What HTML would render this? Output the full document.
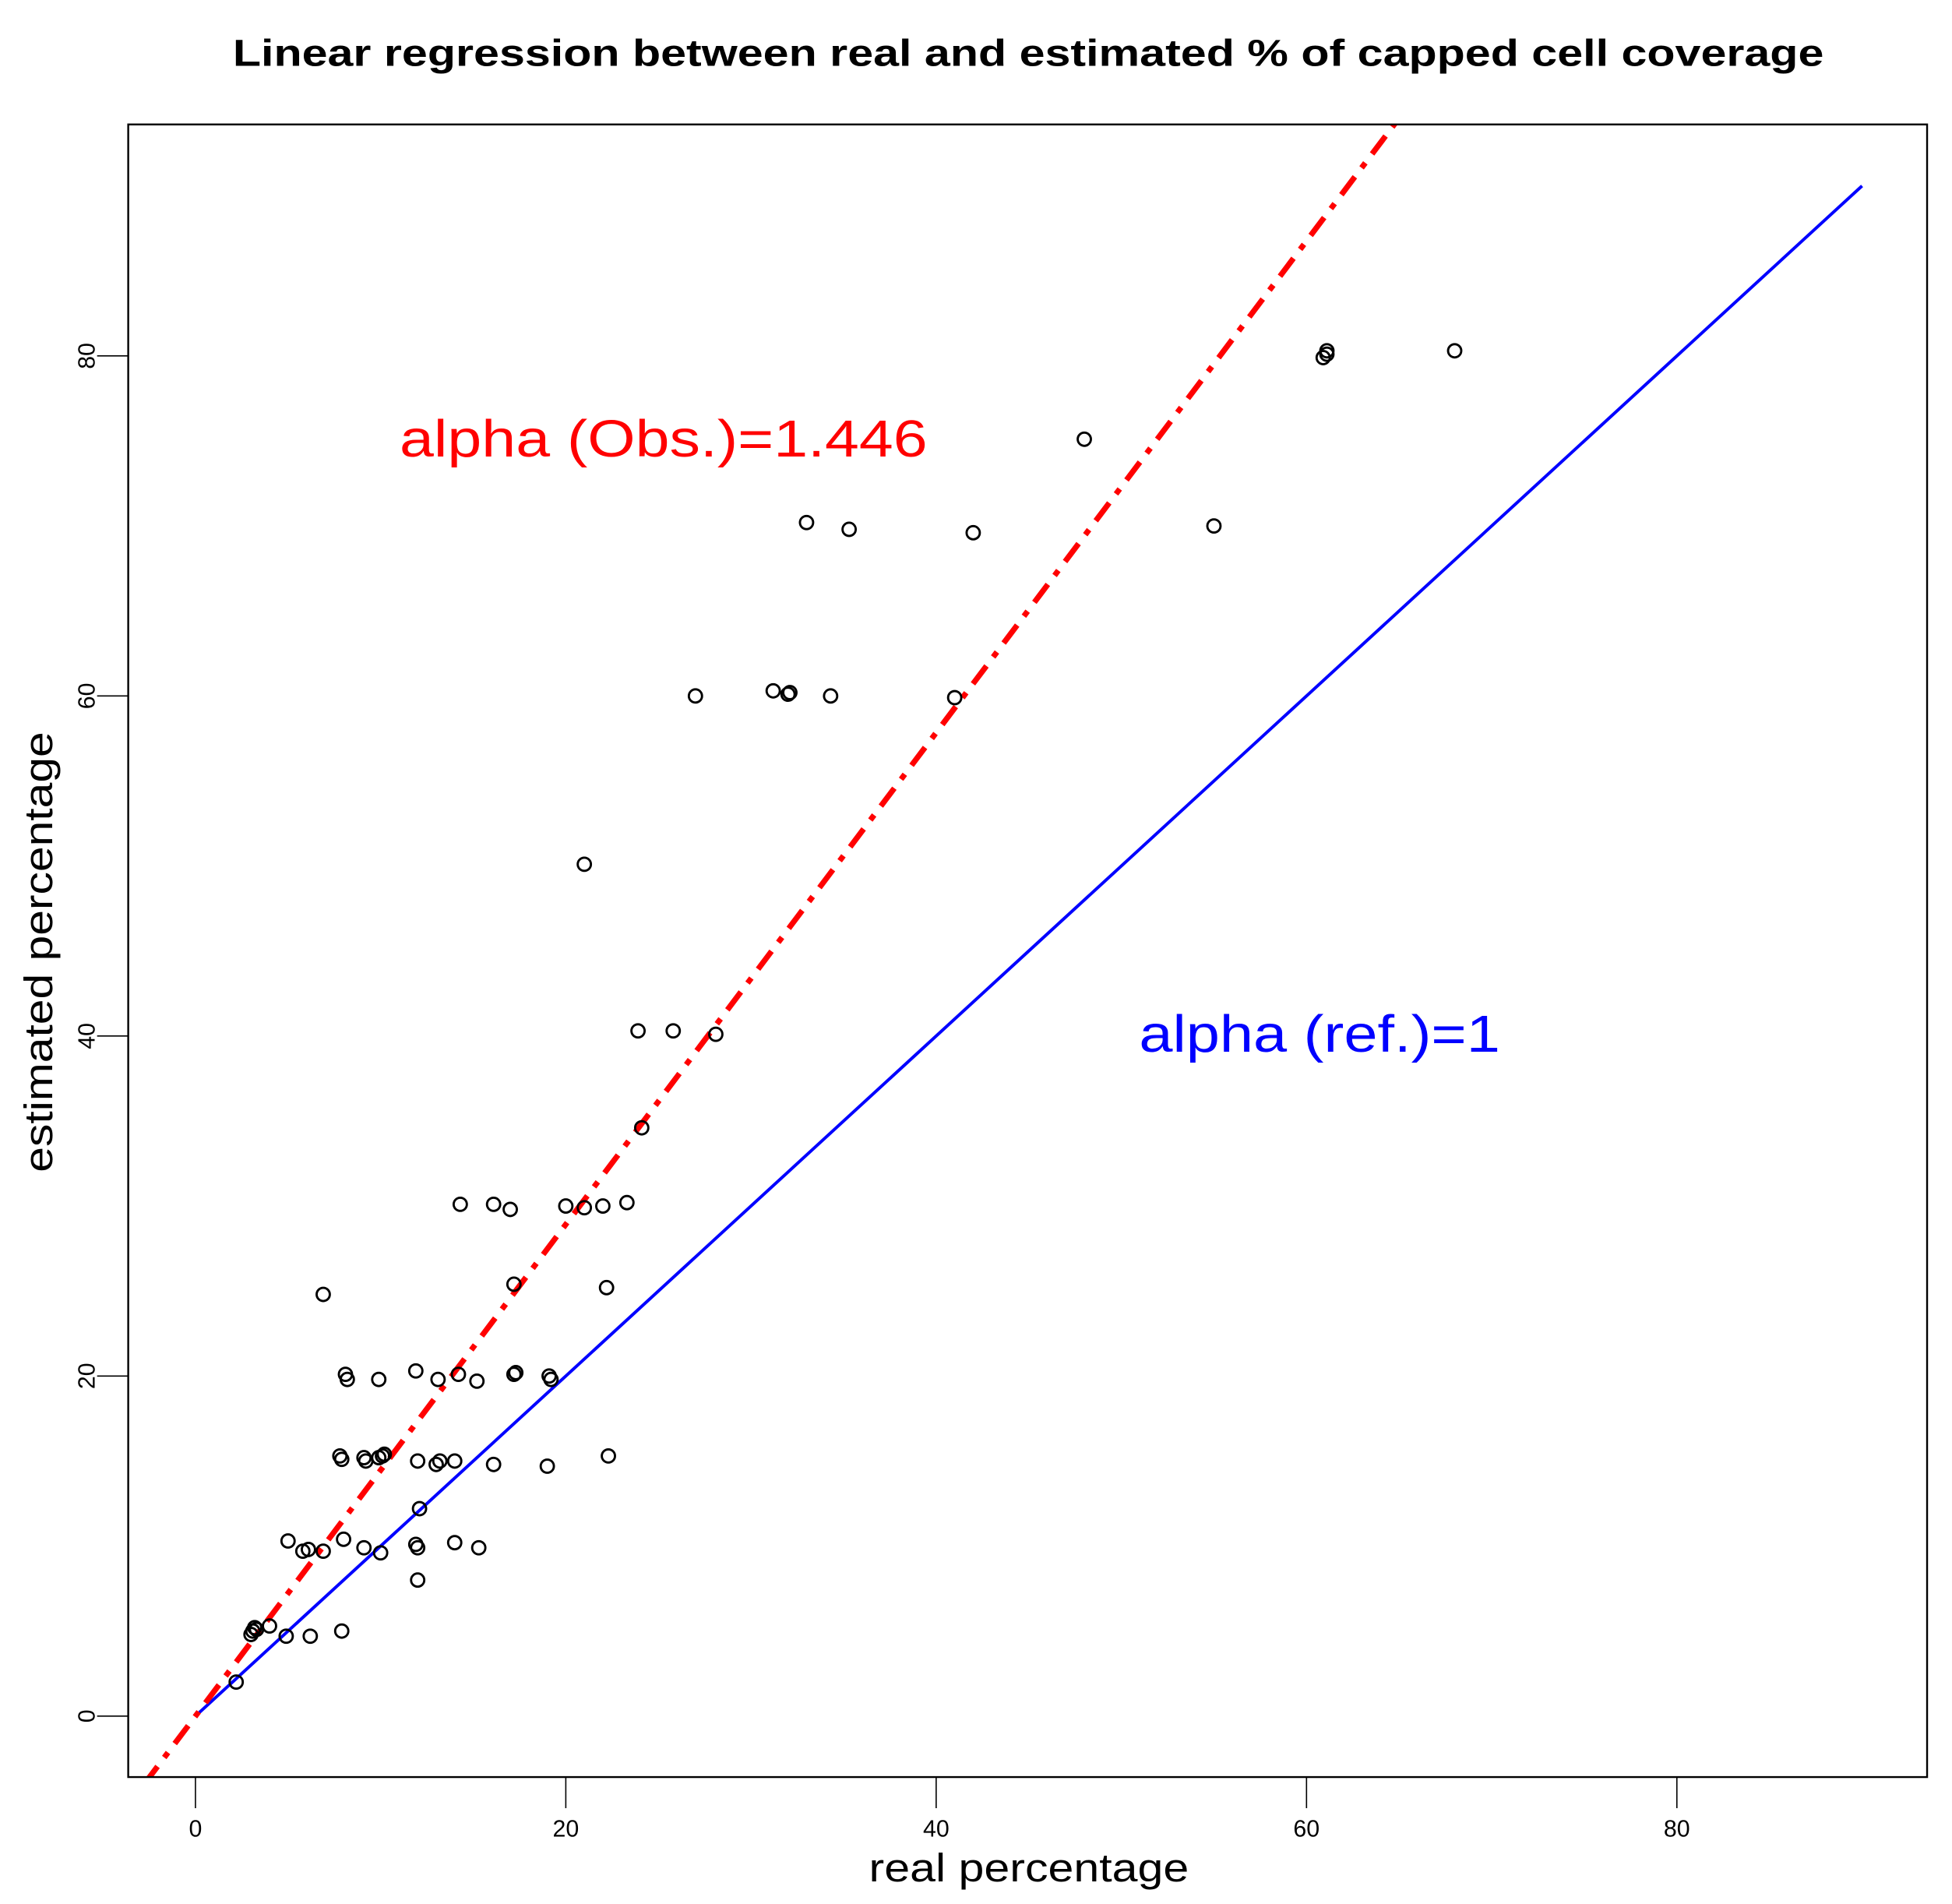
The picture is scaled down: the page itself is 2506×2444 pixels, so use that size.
<!DOCTYPE html>
<html><head><meta charset="utf-8"><style>html,body{margin:0;padding:0;background:#fff}svg{display:block}</style></head>
<body>
<svg id="chart" width="2506" height="2444" viewBox="0 0 1568 1530" preserveAspectRatio="none" xmlns="http://www.w3.org/2000/svg" font-family="Liberation Sans, Arial, sans-serif">
<rect width="1568" height="1530" fill="#fff"/>
<text x="187" y="53" textLength="1278" lengthAdjust="spacingAndGlyphs" font-size="30" font-weight="bold">Linear regression between real and estimated % of capped cell coverage</text>
<defs><clipPath id="pc"><rect x="103" y="100" width="1445" height="1328"/></clipPath></defs>
<g id="marks" clip-path="url(#pc)"></g>
<rect x="103" y="100" width="1445" height="1328" fill="none" stroke="#000" stroke-width="1.5"/>
<g id="axes"></g>
<text x="698" y="1512" textLength="257" lengthAdjust="spacingAndGlyphs" font-size="32">real percentage</text>
<text transform="translate(42,942) rotate(-90)" textLength="354" lengthAdjust="spacingAndGlyphs" font-size="32">estimated percentage</text>
<text x="321" y="367" textLength="424" lengthAdjust="spacingAndGlyphs" font-size="42" fill="#ff0000">alpha (Obs.)=1.446</text>
<text x="915" y="845" textLength="290" lengthAdjust="spacingAndGlyphs" font-size="42" fill="#0000ff">alpha (ref.)=1</text>
</svg>
<script>
const xTicks=[0,20,40,60,80];
const yTicks=[0,20,40,60,80];
const obsSlope=1.446;
const refSlope=1;
const realPct=[2.2,3,3.1,3.2,3.3,4,4.9,6.2,7.9,5,5.8,6.1,6.9,8,9.1,10,7.8,7.9,9.1,9.2,9.9,10.1,10.2,6.9,8.1,8.2,9.9,11.9,12,12,11.9,12,12.1,13,13.2,13.1,14,14,14.2,14.3,15.2,15.3,16.1,16.1,17,17.2,17.2,17.3,19,19.1,19.2,20,21,21,22,22.2,22.3,23.3,23.9,24.1,25.8,27,28.1,31.2,32,32.1,33,34.3,35.3,41,42,48,55,60.9,61.1,61.1,68];
const estPct=[2,4.8,5,5.2,5.1,5.3,4.7,4.7,5,10.3,9.7,9.8,9.7,10.4,9.9,9.6,15.3,15.1,15.2,15,15.2,15.3,15.4,24.8,20.1,19.8,19.8,20.3,15,8,10.1,9.9,12.2,14.8,15,19.8,15,10.2,20.1,30.1,19.7,9.9,14.8,30.1,29.8,25.4,20.1,20.2,14.7,20,19.8,30,29.9,50.1,30,25.2,15.3,30.2,40.3,34.6,40.3,60,40.1,60.3,60.1,60.2,70.2,60,69.8,59.9,69.6,75.1,70,79.9,80.1,80.3,80.3];
const NS='http://www.w3.org/2000/svg';
const sx=v=>157+v*14.875;
const sy=v=>1379-v*13.6625;
function mk(t,a,p){const e=document.createElementNS(NS,t);for(const k in a)e.setAttribute(k,a[k]);p.appendChild(e);return e;}
const marks=document.getElementById('marks'),axes=document.getElementById('axes');
const ref=mk('line',{x1:sx(0),y1:sy(0),x2:sx(90),y2:sy(90*refSlope),stroke:'#0000ff','stroke-width':2.5},marks);


const obs=mk('line',{x1:sx(-5),y1:sy(-5*obsSlope),x2:sx(70),y2:sy(70*obsSlope),stroke:'#ff0000','stroke-width':4.5,'stroke-dasharray':'5 9 18 9'},marks);


realPct.forEach((x,i)=>{const c=mk('circle',{cx:sx(x),cy:sy(estPct[i]),r:5.3,fill:'none',stroke:'#000','stroke-width':1.8},marks);

});
xTicks.forEach(v=>{mk('line',{x1:sx(v),y1:1428,x2:sx(v),y2:1453,stroke:'#000','stroke-width':1},axes);
const t=mk('text',{x:sx(v),y:1476,'text-anchor':'middle','font-size':19},axes);t.textContent=v;

});
yTicks.forEach(v=>{mk('line',{x1:78,y1:sy(v),x2:103,y2:sy(v),stroke:'#000','stroke-width':1},axes);
const t=mk('text',{transform:`translate(76,${sy(v)}) rotate(-90)`,'text-anchor':'middle','font-size':19},axes);t.textContent=v;

});
</script>
</body></html>
